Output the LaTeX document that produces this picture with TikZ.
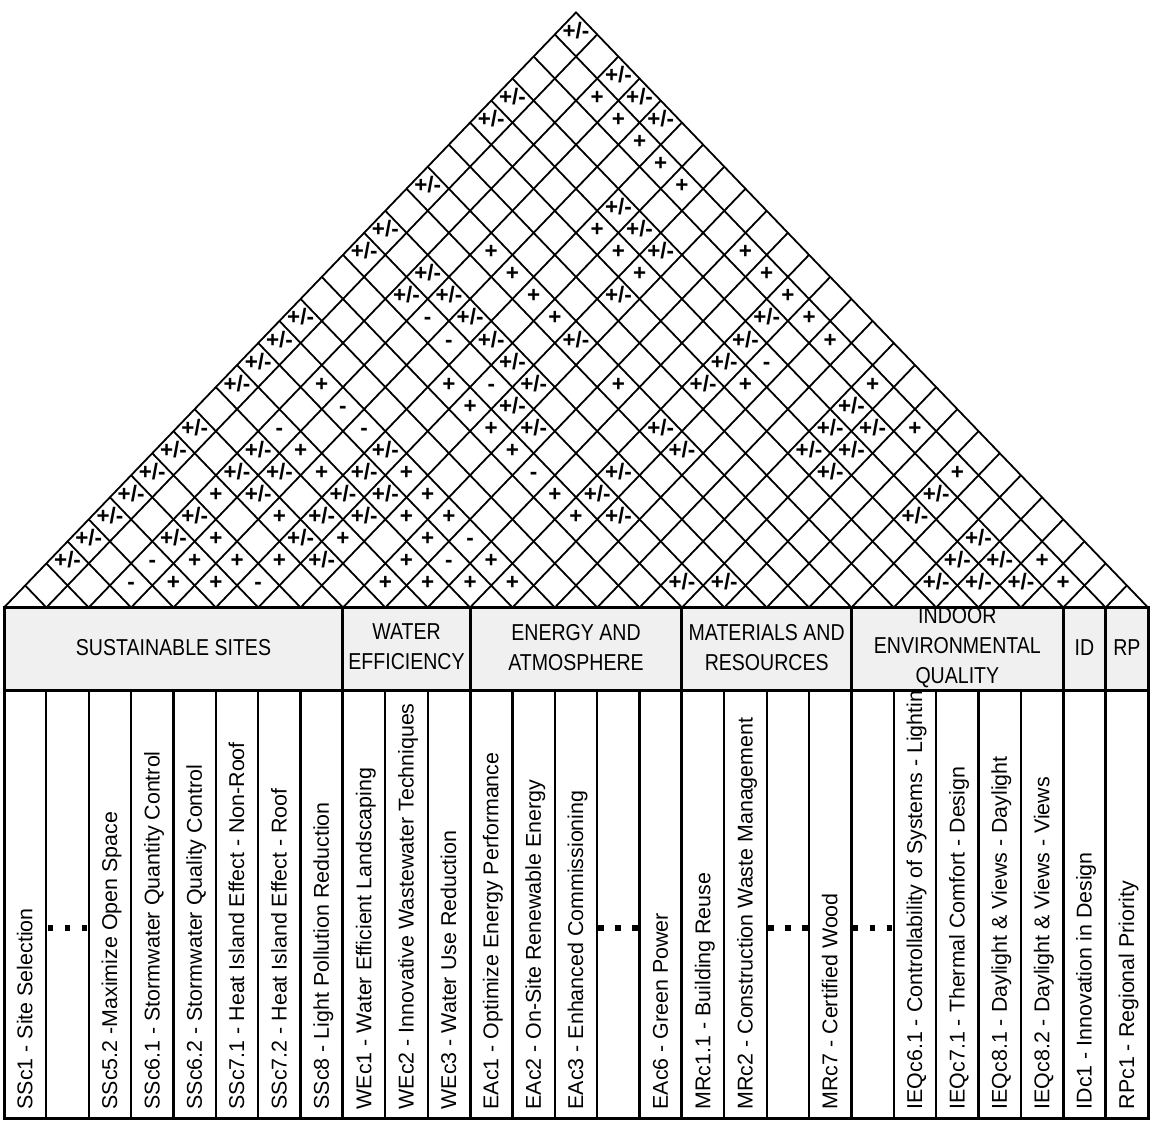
\documentclass[tikz,border=0pt]{standalone}
\usepackage{fontspec}
\setmainfont{Liberation Sans}
\newfontfamily\hdrfont[FakeStretch=0.85]{Liberation Sans}
\usepackage{tikz}
\definecolor{hdrgray}{RGB}{240,240,240}
\def\hdrbot{-1.883}
\def\tabbot{-11.592}

\begin{document}
\begin{tikzpicture}[x=21.185pt,y=22.04pt,
  roofline/.style={line width=0.9pt},
  rel/.style={anchor=base,inner sep=0pt,yshift=-2pt,font=\bfseries\fontsize{11.2}{13}\selectfont},
  hdr/.style={align=center,inner sep=0pt,font=\hdrfont\fontsize{11.5}{15}\selectfont},
  lbl/.style={rotate=90,anchor=base west,inner sep=0pt,font=\fontsize{10.7}{12.8}\selectfont},
  frame/.style={line width=1.5pt},
  colsep/.style={line width=1.1pt},
  skipped/.style={line width=3pt,dash pattern=on 2.8pt off 5.7pt}]
\useasboundingbox (-0.0944,-11.627) rectangle (27.0944,13.782);

\draw[roofline,line join=miter] (0,0) -- (13.5,13.5) -- (27,0);
\foreach \k in {1,...,26} {
  \draw[roofline] (\k,0) -- ({(\k+27)/2},{(27-\k)/2});
  \draw[roofline] (\k,0) -- ({\k/2},{\k/2});
}

\foreach \a/\b in {1/27,3/27,1/24,4/27,1/23,5/27,1/20,6/24,1/18,7/24,1/17,8/24,
  3/18,3/17,4/18,8/22,1/14,5/18,12/25,1/13,6/18,8/20,12/24,1/12,7/18,12/23,
  1/11,8/18,12/22,8/17,16/25,1/9,9/17,12/20,16/24,17/25,1/8,3/10,6/13,13/20,
  16/23,17/24,1/7,3/9,4/10,6/12,12/18,17/23,1/6,4/9,6/11,7/12,12/17,20/25,
  1/5,3/7,6/10,7/11,13/17,20/24,1/4,3/6,6/9,22/25,1/3,7/9,22/24,23/25,
  16/17,17/18,22/23,23/24,24/25}
  \node[rel] (r\a-\b) at ({(\a+\b-1)/2},{(\b-\a)/2}) {+/-};
\foreach \a/\b in {3/26,4/26,5/26,6/26,7/26,6/23,4/20,7/23,10/26,5/20,8/23,
  11/26,6/20,12/26,7/20,13/26,14/26,3/13,6/16,10/20,13/23,16/26,7/16,8/16,
  18/26,4/11,9/16,5/11,7/13,20/26,3/8,8/13,11/16,5/9,8/12,9/13,12/16,4/7,
  7/10,9/12,4/6,5/7,6/8,9/11,11/13,24/26,4/5,5/6,9/10,10/11,11/12,12/13,25/26}
  \node[rel] (r\a-\b) at ({(\a+\b-1)/2},{(\b-\a)/2}) {+};
\foreach \a/\b in {4/17,5/17,13/24,7/17,4/13,3/11,5/13,10/16,10/13,3/5,10/12,3/4,6/7}
  \node[rel] (r\a-\b) at ({(\a+\b-1)/2},{(\b-\a)/2}) {-};

\fill[hdrgray] (0,0) rectangle (27,\hdrbot);
\node[hdr] (g-ss) at (4,-0.9) {SUSTAINABLE SITES};
\node[hdr] (g-we) at (9.5,-0.9) {WATER\\EFFICIENCY};
\node[hdr] (g-ea) at (13.5,-0.9) {ENERGY AND\\ATMOSPHERE};
\node[hdr] (g-mr) at (18,-0.9) {MATERIALS AND\\RESOURCES};
\node[hdr] (g-ieq) at (22.5,-0.9) {INDOOR\\ENVIRONMENTAL\\QUALITY};
\node[hdr] (g-id) at (25.5,-0.9) {ID};
\node[hdr] (g-rp) at (26.5,-0.9) {RP};

\begin{scope}
\clip (0,\hdrbot) rectangle (27,\tabbot);
\foreach \k/\t in {1/{SSc1 - Site Selection},
  3/{SSc5.2 -Maximize Open Space},
  4/{SSc6.1 - Stormwater Quantity Control},
  5/{SSc6.2 - Stormwater Quality Control},
  6/{SSc7.1 - Heat Island Effect - Non-Roof},
  7/{SSc7.2 - Heat Island Effect - Roof},
  8/{SSc8 - Light Pollution Reduction},
  9/{WEc1 - Water Efficient Landscaping},
  10/{WEc2 - Innovative Wastewater Techniques},
  11/{WEc3 - Water Use Reduction},
  12/{EAc1 - Optimize Energy Performance},
  13/{EAc2 - On-Site Renewable Energy},
  14/{EAc3 - Enhanced Commissioning},
  16/{EAc6 - Green Power},
  17/{MRc1.1 - Building Reuse},
  18/{MRc2 - Construction Waste Management},
  20/{MRc7 - Certified Wood},
  22/{IEQc6.1 - Controllability of Systems - Lighting},
  23/{IEQc7.1 - Thermal Comfort - Design},
  24/{IEQc8.1 - Daylight \& Views - Daylight},
  25/{IEQc8.2 - Daylight \& Views - Views},
  26/{IDc1 - Innovation in Design},
  27/{RPc1 - Regional Priority}}
  \node[lbl] (c\k) at ({\k-0.33},{\tabbot+0.2}) {\t};
\end{scope}

\foreach \k in {2,15,19,21}
  \draw[skipped] ({\k-0.97},-7.28) -- (\k,-7.28);

\foreach \k in {1,...,26}
  \draw[colsep] (\k,\hdrbot) -- (\k,\tabbot);
\foreach \k in {8,11,16,20,25,26}
  \draw[frame] (\k,0) -- (\k,\tabbot);
\draw[frame] (0,\hdrbot) -- (27,\hdrbot);
\draw[frame] (0,0) rectangle (27,\tabbot);
\end{tikzpicture}
\end{document}
